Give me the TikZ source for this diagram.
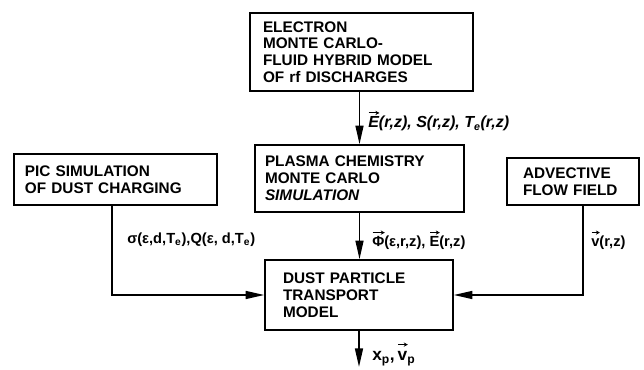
\documentclass[tikz,border=0pt]{standalone}
\usepackage{fontspec}
\setmainfont{Liberation Sans}
\usetikzlibrary{arrows.meta}
\newsavebox{\vecglyph}
\newlength{\veclen}
\newcommand{\vecbold}[1]{\sbox{\vecglyph}{#1}\setlength{\veclen}{\wd\vecglyph}\rlap{\raisebox{0.8em}{\tikz\draw[line width=0.7pt, -{Stealth[length=3pt,width=3.2pt]}] (0,0) -- (\veclen,0);}}\usebox{\vecglyph}}
\tikzset{
  modelbox/.style={draw, line width=1.2pt, align=left, inner ysep=2pt,
    font=\bfseries\fontsize{11.5}{12.6}\selectfont},
  flow/.style={line width=1.2pt, -{Triangle[length=14pt,width=6pt]}},
  lbl/.style={anchor=west, inner sep=0pt, font=\bfseries\fontsize{11}{13}\selectfont}
}

\begin{document}
\begin{tikzpicture}[x=0.75pt, y=-0.75pt]
  \useasboundingbox (0,0) rectangle (644,370);
  \node[modelbox, text width=147.75pt, inner xsep=9.75pt, minimum height=58.5pt] (hybrid) at (361.5,52) {ELECTRON\\MONTE CARLO-\\FLUID HYBRID MODEL\\OF rf DISCHARGES};
  \node[modelbox, text width=141.75pt, inner xsep=7.5pt, minimum height=50.25pt] (chem) at (359.5,178.5) {PLASMA CHEMISTRY\\MONTE CARLO\\\textit{SIMULATION}};
  \node[modelbox, text width=135.75pt, inner xsep=8.25pt, minimum height=38.25pt] (pic) at (115.5,179.5) {PIC SIMULATION\\OF DUST CHARGING};
  \node[modelbox, text width=75pt, inner xsep=12pt, minimum height=35.25pt] (adv) at (573,181.5) {ADVECTIVE\\FLOW FIELD};
  \node[modelbox, text width=114pt, inner xsep=13.5pt, minimum height=52.5pt] (dust) at (359,295) {DUST PARTICLE\\TRANSPORT\\MODEL};
  \coordinate (out) at (359,367);

  \draw[flow] (hybrid.south -| chem.north) -- (chem.north);
  \draw[flow] (chem.south) -- (chem.south |- dust.north);
  \draw[flow] ([xshift=-2.6pt]pic.south) |- (dust.west);
  \draw[flow] ([xshift=7.5pt]adv.south) |- (dust.east);
  \draw[flow] (dust.south) -- (out);

  \node[lbl, font=\bfseries\itshape\fontsize{12}{14}\selectfont] (fieldlab) at (368,121) {\vecbold{E}(r,z), S(r,z), T\textsubscript{e}(r,z)};
  \node[lbl] (chargelab) at (127,240) {σ(ε,d,T\textsubscript{e}),Q(ε, d,T\textsubscript{e})};
  \node[lbl] (ratelab) at (372,240) {\vecbold{Φ}(ε,r,z), \vecbold{E}(r,z)};
  \node[lbl] (velolab) at (591,240) {\vecbold{v}(r,z)};
  \node[lbl, font=\bfseries\fontsize{13}{15}\selectfont] (outlab) at (372,354) {x\textsubscript{p},\,\vecbold{v}\textsubscript{p}};
\end{tikzpicture}
\end{document}
